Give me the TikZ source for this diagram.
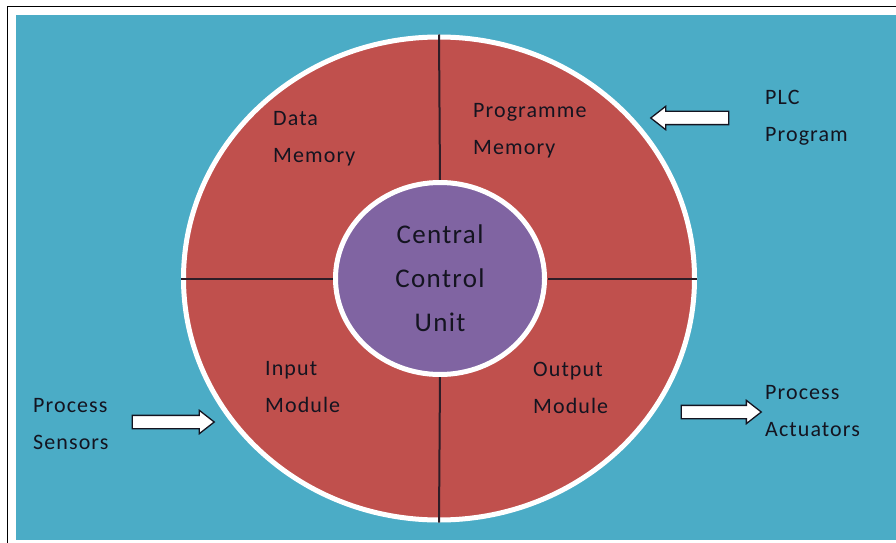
\documentclass[tikz,border=0pt]{standalone}
\usepackage{fontspec}
\setmainfont[LetterSpace=5]{Carlito}
\usetikzlibrary{shapes.geometric,shapes.arrows}

\definecolor{plcteal}{HTML}{4BACC6}
\definecolor{plcred}{HTML}{C0504D}
\definecolor{plcpurple}{HTML}{8064A2}
\definecolor{plcink}{HTML}{141420}

\begin{document}
\begin{tikzpicture}[
		x=1pt,
		y=1pt,
		partname/.style={align=left,anchor=west,inner sep=0pt,text=plcink,font=\fontsize{22}{37}\selectfont},
		ring/.style={ellipse,draw=white,line width=5pt,inner sep=0pt},
		divider/.style={draw=plcink!85!plcred,line width=2pt,shorten >=2.5pt},
		blockarrow/.style={single arrow,draw=plcink,line width=1.3pt,fill=white,inner xsep=0pt,inner ysep=6pt,single arrow head extend=5pt,single arrow tip angle=76}
		]
		
		\useasboundingbox (0,0) rectangle (896,542);
		
		% =====================================================
		% Frame and background
		% =====================================================
		\draw[fill=white,line width=1pt] (7,535) rectangle (900,-5);
		\fill[plcteal] (16,527) rectangle (896,2);
		
		% =====================================================
		% Rings
		% =====================================================
		\node[ring,fill=plcred,minimum width=511pt,minimum height=483pt] (body) at (439,263.5) {};
		
		\draw[divider] (body.west) -- (335,263.5);
		\draw[divider] (body.east) -- (545,263.5);
		\draw[divider] (body.north) -- (440,359.5);
		\draw[divider] (body.south) -- (440,167.5);
		
		\node[ring,fill=plcpurple,minimum width=209pt,minimum height=192pt,
		align=center,text=plcink,font=\fontsize{27}{44}\selectfont] (ccu) at (440,263.5)
		{Central\\Control\\Unit};
		
		% =====================================================
		% Quarter labels
		% =====================================================
		\node[partname] (datamem) at (273,403) {Data\\Memory};
		\node[partname] (progmem) at (473,411) {Programme\\Memory};
		\node[partname] (inmod) at (265,154.5) {Input\\Module};
		\node[partname] (outmod) at (533,154.5) {Output\\Module};
		
		% =====================================================
		% Outside labels and block arrows
		% =====================================================
		\node[partname] (plcprog) at (765,424.5) {PLC\\Program};
		\node[partname] (sensors) at (33,117.5) {Process\\Sensors};
		\node[partname] (actuators) at (765,130.5) {Process\\Actuators};
		
		\node[blockarrow,minimum height=78pt,shape border rotate=180] (plcarrow) at (694,424) {};
		\node[blockarrow,minimum height=82pt] (inarrow) at (169,120) {};
		\node[blockarrow,minimum height=80pt] (outarrow) at (717,130) {};
		
	\end{tikzpicture}
\end{document}
